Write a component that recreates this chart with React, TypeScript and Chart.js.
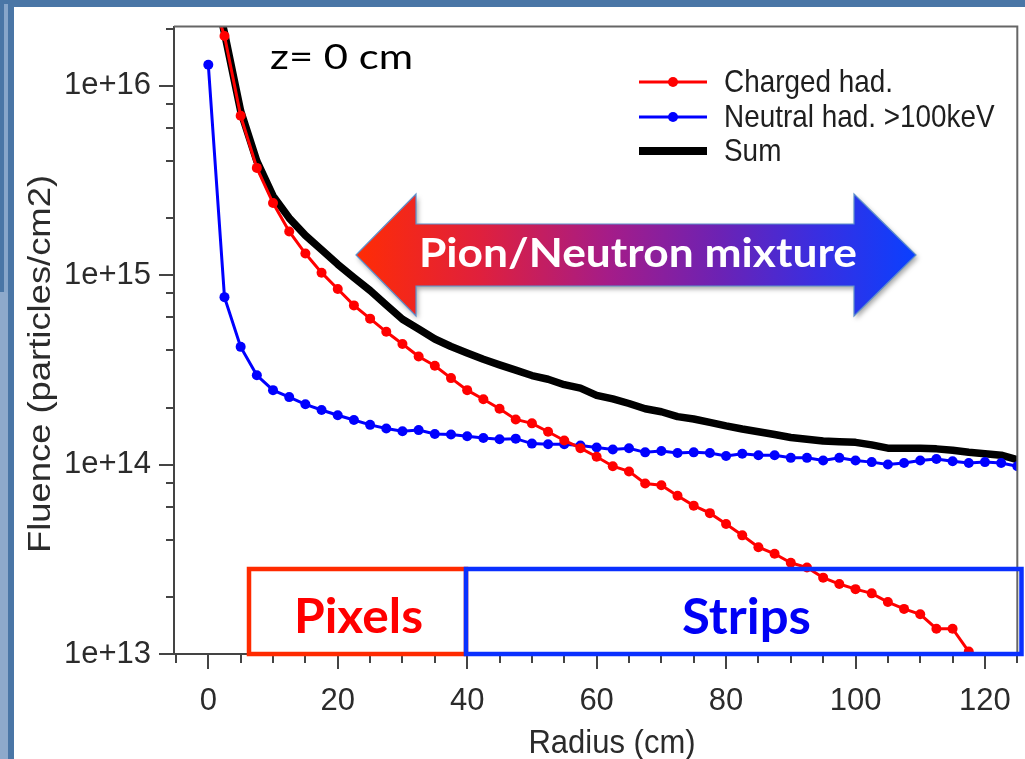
import React, { useEffect, useRef } from 'react';
import { Chart, registerables } from 'chart.js';

Chart.register(...registerables);

// ---------------- data ----------------
const radius = [
  0, 2.5, 5, 7.5, 10, 12.5, 15, 17.5, 20, 22.5, 25, 27.5, 30, 32.5, 35, 37.5, 40, 42.5, 45, 47.5,
  50, 52.5, 55, 57.5, 60, 62.5, 65, 67.5, 70, 72.5, 75, 77.5, 80, 82.5, 85, 87.5, 90, 92.5, 95, 97.5,
  100, 102.5, 105, 107.5, 110, 112.5, 115, 117.5, 120, 122.5, 125,
];

const chargedHad = [
  3.3e16, 1.83e16, 6.93e15, 3.68e15, 2.4e15, 1.7e15, 1.3e15, 1.03e15, 8.45e14, 6.92e14,
  5.89e14, 5.02e14, 4.33e14, 3.72e14, 3.32e14, 2.86e14, 2.47e14, 2.21e14, 1.97e14, 1.73e14,
  1.65e14, 1.49e14, 1.34e14, 1.22e14, 1.1e14, 9.8e13, 9.2e13, 7.94e13, 7.78e13, 6.85e13,
  6.07e13, 5.54e13, 4.85e13, 4.23e13, 3.66e13, 3.38e13, 3.03e13, 2.86e13, 2.53e13, 2.34e13,
  2.2e13, 2.09e13, 1.88e13, 1.73e13, 1.62e13, 1.36e13, 1.36e13, 1.03e13, 7.5e12, null, null,
];

const neutralHad = [
  1.29e16, 7.65e14, 4.18e14, 2.96e14, 2.47e14, 2.27e14, 2.08e14, 1.94e14, 1.82e14, 1.72e14,
  1.62e14, 1.55e14, 1.5e14, 1.52e14, 1.45e14, 1.44e14, 1.41e14, 1.38e14, 1.36e14, 1.37e14,
  1.29e14, 1.28e14, 1.28e14, 1.26e14, 1.23e14, 1.2e14, 1.22e14, 1.16e14, 1.18e14, 1.15e14,
  1.16e14, 1.15e14, 1.11e14, 1.14e14, 1.12e14, 1.12e14, 1.085e14, 1.085e14, 1.05e14, 1.085e14,
  1.05e14, 1.03e14, 1.0e14, 1.02e14, 1.05e14, 1.07e14, 1.04e14, 1.02e14, 1.03e14, 1.02e14, 9.8e13,
];

const sumHad = [
  4.5e16, 1.9e16, 7.35e15, 4.0e15, 2.62e15, 2.0e15, 1.62e15, 1.36e15, 1.14e15, 9.7e14,
  8.3e14, 6.95e14, 5.85e14, 5.2e14, 4.6e14, 4.2e14, 3.88e14, 3.6e14, 3.36e14, 3.15e14,
  2.95e14, 2.82e14, 2.64e14, 2.53e14, 2.32e14, 2.22e14, 2.1e14, 1.97e14, 1.9e14, 1.79e14,
  1.74e14, 1.67e14, 1.6e14, 1.54e14, 1.49e14, 1.44e14, 1.39e14, 1.36e14, 1.33e14, 1.32e14,
  1.31e14, 1.27e14, 1.22e14, 1.22e14, 1.22e14, 1.21e14, 1.19e14, 1.16e14, 1.14e14, 1.12e14, 1.06e14,
];

const seriesLabels = ['Charged had.', 'Neutral had. >100keV', 'Sum'];
const xTickValues = [0, 20, 40, 60, 80, 100, 120];
const yTickValues = [1e13, 1e14, 1e15, 1e16];
const xTitle = 'Radius (cm)';
const yTitle = 'Fluence (particles/cm2)';
const zLabel = 'z= 0 cm';
const arrowLabel = 'Pion/Neutron mixture';
const pixelsLabel = 'Pixels';
const stripsLabel = 'Strips';

// ---------------- styling helpers ----------------
const SANS = '"Liberation Sans", Arial, sans-serif';
const CAL = 'Lato, "Open Sans", sans-serif';

function drawFitted(
  ctx: CanvasRenderingContext2D,
  text: string,
  x: number,
  baseline: number,
  width: number,
  capH: number,
  weight: string,
  family: string,
  color: string,
  capRatio: number
) {
  const size = capH / capRatio;
  ctx.save();
  ctx.font = `${weight} ${size}px ${family}`;
  const w = ctx.measureText(text).width;
  ctx.translate(x, baseline);
  ctx.scale(width / w, 1);
  ctx.fillStyle = color;
  ctx.textAlign = 'left';
  ctx.textBaseline = 'alphabetic';
  ctx.fillText(text, 0, 0);
  ctx.restore();
}

const decorPlugin = {
  id: 'decor',
  afterDraw(chart: any) {
    const ctx: CanvasRenderingContext2D = chart.ctx;
    const area = chart.chartArea;
    const xs = chart.scales.x;
    const ys = chart.scales.y;

    // frame (top and right)
    ctx.save();
    ctx.strokeStyle = '#666';
    ctx.lineWidth = 2;
    ctx.beginPath();
    ctx.moveTo(area.left, area.top);
    ctx.lineTo(area.right, area.top);
    ctx.lineTo(area.right, area.bottom);
    ctx.stroke();

    // minor ticks
    ctx.strokeStyle = '#444';
    ctx.lineWidth = 2;
    ctx.beginPath();
    for (let v = -5; v <= 125; v += 5) {
      if (v % 20 === 0 && v >= 0) continue;
      const px = Math.round(xs.getPixelForValue(v));
      ctx.moveTo(px, area.bottom);
      ctx.lineTo(px, area.bottom + 9);
    }
    for (let d = 13; d <= 16; d++) {
      for (const m of [2, 4, 6, 8]) {
        const val = m * Math.pow(10, d);
        if (val > ys.max) continue;
        const py = Math.round(ys.getPixelForValue(val));
        ctx.moveTo(area.left, py);
        ctx.lineTo(area.left - 8, py);
      }
    }
    ctx.stroke();
    ctx.restore();

    // axis titles
    ctx.save();
    ctx.font = `31px ${SANS}`;
    ctx.fillStyle = '#2b2b2b';
    ctx.textAlign = 'center';
    ctx.textBaseline = 'middle';
    ctx.translate(612, 744);
    ctx.scale(1, 1.1);
    ctx.fillText(xTitle, 0, 0);
    ctx.restore();

    ctx.save();
    ctx.font = `31px ${SANS}`;
    const tw = ctx.measureText(yTitle).width;
    ctx.fillStyle = '#2b2b2b';
    ctx.textAlign = 'center';
    ctx.textBaseline = 'middle';
    ctx.translate(41, 364);
    ctx.rotate(-Math.PI / 2);
    ctx.scale(378 / tw, 1);
    ctx.fillText(yTitle, 0, 0);
    ctx.restore();

    // legend
    const rows = [82, 117, 151];
    chart.data.datasets.forEach((ds: any, i: number) => {
      const y = rows[i];
      ctx.save();
      ctx.strokeStyle = ds.borderColor;
      ctx.lineWidth = i === 2 ? 8 : 3.2;
      ctx.beginPath();
      ctx.moveTo(639, y);
      ctx.lineTo(707, y);
      ctx.stroke();
      if (ds.pointRadius > 0) {
        ctx.fillStyle = ds.borderColor;
        ctx.beginPath();
        ctx.arc(673, y, 5, 0, Math.PI * 2);
        ctx.fill();
      }
      ctx.font = `30px ${SANS}`;
      ctx.fillStyle = '#1e1e1e';
      ctx.textBaseline = 'middle';
      ctx.translate(724, y + 1);
      ctx.scale(0.93, 1.05);
      ctx.fillText(ds.label, 0, 0);
      ctx.restore();
    });

    // z label
    drawFitted(ctx, zLabel, 270, 69, 143, 24.5, 'normal', CAL, '#000', 0.72);

    // arrow
    ctx.save();
    const g = ctx.createLinearGradient(356, 0, 916, 0);
    g.addColorStop(0, '#ff2c05');
    g.addColorStop(0.22, '#e0203c');
    g.addColorStop(0.45, '#a51c88');
    g.addColorStop(0.65, '#6c22b4');
    g.addColorStop(0.82, '#3a2ee0');
    g.addColorStop(1, '#0a40ff');
    ctx.beginPath();
    ctx.moveTo(356, 255);
    ctx.lineTo(416, 194);
    ctx.lineTo(416, 224);
    ctx.lineTo(854, 224);
    ctx.lineTo(854, 194);
    ctx.lineTo(916, 255);
    ctx.lineTo(854, 316);
    ctx.lineTo(854, 286);
    ctx.lineTo(416, 286);
    ctx.lineTo(416, 316);
    ctx.closePath();
    ctx.shadowColor = 'rgba(0,0,0,0.35)';
    ctx.shadowBlur = 5;
    ctx.shadowOffsetX = 2;
    ctx.shadowOffsetY = 3;
    ctx.fillStyle = g;
    ctx.fill();
    ctx.shadowColor = 'transparent';
    ctx.strokeStyle = '#5d8fcc';
    ctx.lineWidth = 1.2;
    ctx.stroke();
    ctx.restore();
    drawFitted(ctx, arrowLabel, 419, 267, 438, 29, 'bold', CAL, '#ffffff', 0.72);

    // detector boxes
    ctx.save();
    ctx.lineWidth = 4.5;
    ctx.strokeStyle = '#ff2a00';
    ctx.strokeRect(249, 569, 466 - 249, 654 - 569);
    ctx.strokeStyle = '#0a30ff';
    ctx.strokeRect(466, 569, 1021.5 - 466, 654 - 569);
    ctx.restore();
    drawFitted(ctx, pixelsLabel, 294, 633, 129, 35, 'bold', CAL, '#ff0000', 0.72);
    drawFitted(ctx, stripsLabel, 682, 634, 129, 36, 'bold', CAL, '#0000f5', 0.72);
  },
};

export default function App() {
  const canvasRef = useRef<HTMLCanvasElement | null>(null);

  useEffect(() => {
    if (!canvasRef.current) return;
    const mk = (arr: (number | null)[]) => radius.map((r, i) => ({ x: r, y: arr[i] }));
    const chart = new Chart(canvasRef.current, {
      type: 'line',
      data: {
        datasets: [
          {
            label: seriesLabels[0],
            data: mk(chargedHad) as any,
            borderColor: '#ff0000',
            backgroundColor: '#ff0000',
            pointBackgroundColor: '#ff0000',
            borderWidth: 3,
            pointRadius: 5,
            pointBorderWidth: 0,
            tension: 0,
          },
          {
            label: seriesLabels[1],
            data: mk(neutralHad) as any,
            borderColor: '#0000ff',
            backgroundColor: '#0000ff',
            pointBackgroundColor: '#0000ff',
            borderWidth: 3,
            pointRadius: 5,
            pointBorderWidth: 0,
            tension: 0,
          },
          {
            label: seriesLabels[2],
            data: mk(sumHad) as any,
            borderColor: '#000000',
            backgroundColor: '#000000',
            borderWidth: 7.5,
            pointRadius: 0,
            tension: 0,
            borderJoinStyle: 'round',
            borderCapStyle: 'round',
          },
        ],
      },
      options: {
        animation: false,
        responsive: true,
        maintainAspectRatio: false,
        devicePixelRatio: 1,
        layout: { padding: { top: 20, right: 2, bottom: 0, left: 0 } },
        plugins: { legend: { display: false }, tooltip: { enabled: false } },
        scales: {
          x: {
            type: 'linear',
            min: -5.3,
            max: 125,
            afterBuildTicks: (s: any) => {
              s.ticks = xTickValues.map((v) => ({ value: v }));
            },
            afterFit: (s: any) => {
              s.height = 105;
            },
            ticks: {
              autoSkip: false,
              maxRotation: 0,
              padding: 14,
              color: '#2b2b2b',
              font: { family: SANS, size: 31 },
              callback: (v: any) => String(v),
            },
            grid: { drawOnChartArea: false, drawTicks: true, tickLength: 15, color: '#444', lineWidth: 2 },
            border: { display: true, color: '#444', width: 2 },
            title: { display: false },
          },
          y: {
            type: 'logarithmic',
            min: 1e13,
            max: 2.05e16,
            afterBuildTicks: (s: any) => {
              s.ticks = yTickValues.map((v) => ({ value: v }));
            },
            afterFit: (s: any) => {
              s.width = 174;
            },
            ticks: {
              autoSkip: false,
              padding: 8,
              color: '#2b2b2b',
              font: { family: SANS, size: 31 },
              callback: (v: any) => `1e+${Math.round(Math.log10(Number(v)))}`,
            },
            grid: { drawOnChartArea: false, drawTicks: true, tickLength: 15, color: '#444', lineWidth: 2 },
            border: { display: true, color: '#444', width: 2 },
            title: { display: false },
          },
        },
      },
      plugins: [decorPlugin],
    });
    return () => chart.destroy();
  }, []);

  return (
    <div style={{ position: 'absolute', left: 0, top: 0, width: 1025, height: 759, background: '#4a76a6', overflow: 'hidden' }}>
      <div style={{ position: 'absolute', left: 4, top: 4, width: 4, height: 755, background: '#88a6ca' }} />
      <div style={{ position: 'absolute', left: 0, top: 292, width: 8, height: 467, background: '#8ea9cb', borderTopRightRadius: 3 }} />
      <div style={{ position: 'absolute', left: 14, top: 7, right: 0, bottom: 0, background: '#ffffff' }} />
      <div style={{ position: 'absolute', left: 0, top: 0, width: 1025, height: 759 }}>
        <canvas ref={canvasRef} />
      </div>
    </div>
  );
}
